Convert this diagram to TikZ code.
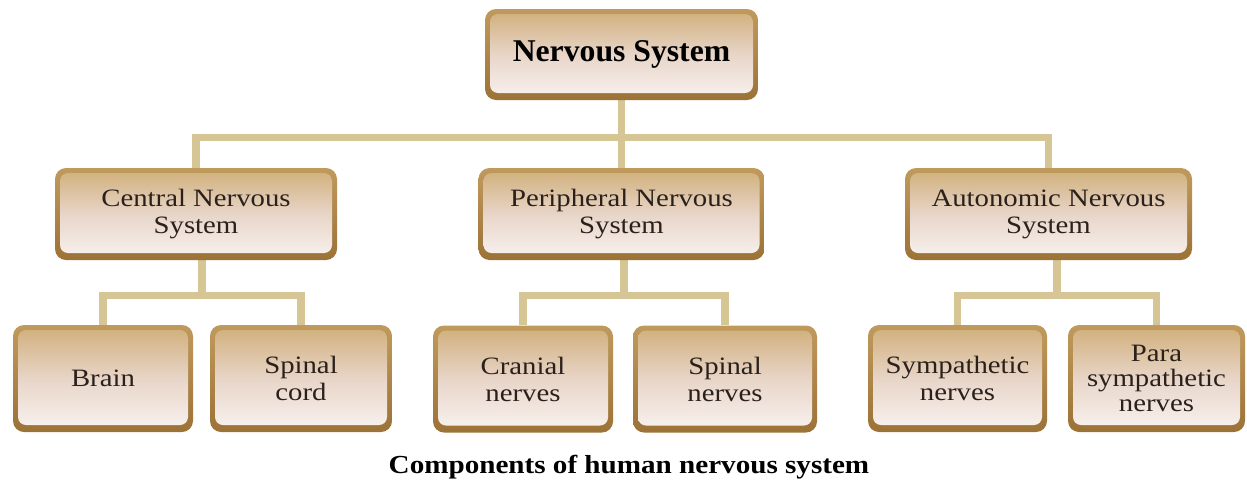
\documentclass[tikz,border=0pt]{standalone}
\usepackage{fontspec}
\setmainfont{Liberation Serif}
\newfontfamily\boxfont[FakeStretch=1.15]{Liberation Serif}
\newfontfamily\capfont[FakeStretch=1.12]{Liberation Serif}
\usetikzlibrary{backgrounds,calc}
\definecolor{rimtop}{HTML}{C09A5C}
\definecolor{rimbot}{HTML}{9C7236}
\definecolor{intop}{HTML}{CFAE78}
\definecolor{inmid}{HTML}{E8D5C8}
\definecolor{inbot}{HTML}{F9F3F1}
\definecolor{conncol}{HTML}{D6C595}
\definecolor{txt}{HTML}{2A211C}
\tikzset{
  gbox/.style={rectangle, rounded corners=11pt, top color=rimtop, bottom color=rimbot,
    draw=none, inner sep=0pt, align=center, text=txt,
    font=\boxfont\fontsize{25}{27}\selectfont,
    path picture={\shade[rounded corners=8pt, top color=intop, bottom color=inbot, middle color=inmid]
      ([shift={(5pt,-5pt)}]path picture bounding box.north west) rectangle
      ([shift={(-5pt,7pt)}]path picture bounding box.south east);}},
  conn/.style={draw=conncol, line width=7.5pt, line join=miter},
}
\begin{document}
\begin{tikzpicture}[x=1pt,y=-1pt]
\useasboundingbox (0,0) rectangle (1247,483);
% top
\node[gbox, minimum width=273pt, minimum height=91pt, text=black,
  font=\bfseries\fontsize{31.7}{36}\selectfont] (ns) at (621.5,54.5) {Nervous System};
% middle row
\node[gbox, minimum width=282pt, minimum height=92pt] (cns) at (196,214) {Central Nervous\\System};
\node[gbox, minimum width=286pt, minimum height=92pt] (pns) at (621.5,214) {Peripheral Nervous\\System};
\node[gbox, minimum width=287pt, minimum height=92pt] (ans) at (1048.5,214) {Autonomic Nervous\\System};
% bottom row
\node[gbox, minimum width=180pt, minimum height=107pt] (brain) at (103,378.5) {Brain};
\node[gbox, minimum width=182pt, minimum height=107pt] (scord) at (301,378.5) {Spinal\\cord};
\node[gbox, minimum width=180pt, minimum height=107pt] (cran) at (523,379) {Cranial\\nerves};
\node[gbox, minimum width=184pt, minimum height=107pt] (snerv) at (725,379) {Spinal\\nerves};
\node[gbox, minimum width=179pt, minimum height=107pt] (symp) at (957.5,378.5) {Sympathetic\\nerves};
\node[gbox, minimum width=177pt, minimum height=107pt, font=\boxfont\fontsize{25}{25}\selectfont] (para) at (1156.5,378.5) {Para\\sympathetic\\nerves};
% caption
\node[font=\capfont\bfseries\fontsize{26}{30}\selectfont, text=black] (cap) at (629,467) {Components of human nervous system};
% connectors
\coordinate (b1) at (621.5,137.5);
\coordinate (bc) at (202,295.5);
\coordinate (bp) at (624,295.5);
\coordinate (ba) at (1057,295.5);
\begin{pgfonlayer}{background}
\draw[conn] (ns.south) -- (b1);
\draw[conn] (b1) -| (cns.north);
\draw[conn] (b1) -| (ans.north);
\draw[conn] (b1) -- (pns.north);
\draw[conn] (cns.south -| bc) -- (bc);
\draw[conn] (bc) -| (brain.north);
\draw[conn] (bc) -| (scord.north);
\draw[conn] (pns.south -| bp) -- (bp);
\draw[conn] (bp) -| (cran.north);
\draw[conn] (bp) -| (snerv.north);
\draw[conn] (ans.south -| ba) -- (ba);
\draw[conn] (ba) -| (symp.north);
\draw[conn] (ba) -| (para.north);
\end{pgfonlayer}
\end{tikzpicture}
\end{document}
